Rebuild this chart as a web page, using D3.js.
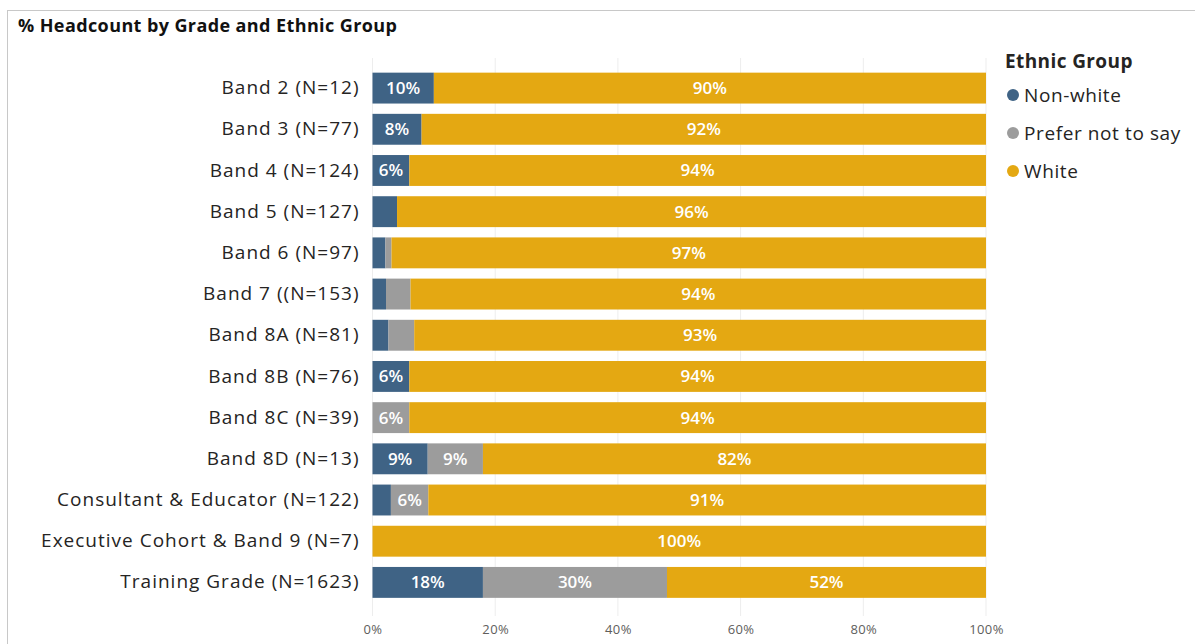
<!DOCTYPE html>
<html><head><meta charset="utf-8">
<script src="https://cdn.jsdelivr.net/npm/d3@7"></script>
<style>body{margin:0;background:#fff;}svg{display:block;}</style>
</head><body>
<script>
const categories = ["Band 2 (N=12)","Band 3 (N=77)","Band 4 (N=124)","Band 5 (N=127)","Band 6 (N=97)","Band 7 ((N=153)","Band 8A (N=81)","Band 8B (N=76)","Band 8C (N=39)","Band 8D (N=13)","Consultant & Educator (N=122)","Executive Cohort & Band 9 (N=7)","Training Grade (N=1623)"];
const seriesNames = ["Non-white","Prefer not to say","White"];
const nonWhite = [10, 8, 6, 4, 2.1, 2.2, 2.6, 6, 0, 9, 3, 0, 18];
const preferNot = [0, 0, 0, 0, 1.0, 4.0, 4.2, 0, 6, 9, 6.1, 0, 30];
const white = [90, 92, 94, 96, 96.9, 93.8, 93.2, 94, 94, 82, 90.9, 100, 52];
const tickValues = [0, 20, 40, 60, 80, 100];
const colors = ["#3F6385", "#9C9C9C", "#E4A812"];

const W = 1195, H = 644;
const svg = d3.select("body").append("svg").attr("width", W).attr("height", H);
const font = "'Open Sans', 'Noto Sans', sans-serif";

svg.append("rect").attr("x", 7.5).attr("y", 10.5).attr("width", W).attr("height", H)
  .attr("fill", "none").attr("stroke", "#C8C8C8").attr("stroke-width", 1);

svg.append("text").attr("x", 18).attr("y", 32).text("% Headcount by Grade and Ethnic Group")
  .attr("font-family", font).attr("font-weight", 700).attr("font-size", 18)
  .attr("letter-spacing", 0.4).attr("fill", "#111");

const x = d3.scaleLinear().domain([0, 100]).range([372.5, 986]);
const y = d3.scaleBand().domain(categories).range([67.5, 603]).paddingInner(0.25).paddingOuter(0.125);

// gridlines
svg.append("g").selectAll("line").data(tickValues).join("line")
  .attr("x1", d => x(d)).attr("x2", d => x(d)).attr("y1", 58).attr("y2", 616)
  .attr("stroke", "#EDEDED").attr("stroke-width", 1);

const rows = categories.map((c, i) => ({cat: c, vals: [nonWhite[i], preferNot[i], white[i]]}));
const stack = d3.stack().keys([0,1,2]).value((d, k) => d.vals[k]);
const stacked = stack(rows);

const g = svg.append("g");
stacked.forEach((layer, k) => {
  g.append("g").selectAll("rect").data(layer).join("rect")
    .attr("x", d => x(d[0])).attr("width", d => Math.max(0, x(d[1]) - x(d[0])))
    .attr("y", d => y(d.data.cat)).attr("height", y.bandwidth())
    .attr("fill", colors[k]);
  g.append("g").selectAll("text").data(layer.filter(d => (d[1]-d[0]) >= 5.5)).join("text")
    .attr("x", d => (x(d[0]) + x(d[1])) / 2).attr("y", d => y(d.data.cat) + y.bandwidth()/2 + 6)
    .attr("text-anchor", "middle").attr("font-family", font).attr("font-weight", 600)
    .attr("font-size", 17).attr("fill", "#fff")
    .text(d => Math.round(d[1]-d[0]) + "%");
});

// category axis
const yAxis = svg.append("g").attr("transform", `translate(${x(0)},0)`)
  .call(d3.axisLeft(y).tickSize(0).tickPadding(13));
yAxis.select(".domain").remove();
yAxis.selectAll("text").attr("font-family", font).attr("font-size", 19)
  .attr("letter-spacing", 1).attr("fill", "#252423");

// x axis
const xAxis = svg.append("g").attr("transform", `translate(0,617)`)
  .call(d3.axisBottom(x).tickValues(tickValues).tickSize(0).tickPadding(8).tickFormat(d => d + "%"));
xAxis.select(".domain").remove();
xAxis.selectAll("text").attr("font-family", font).attr("font-size", 13)
  .attr("letter-spacing", 0.4).attr("fill", "#605E5C");

// legend
const lg = svg.append("g");
lg.append("text").attr("x", 1005).attr("y", 68).text("Ethnic Group")
  .attr("font-family", font).attr("font-weight", 700).attr("font-size", 19)
  .attr("letter-spacing", 0.4).attr("fill", "#252423");
seriesNames.forEach((s, i) => {
  const cy = 95 + i * 38;
  lg.append("circle").attr("cx", 1013).attr("cy", cy).attr("r", 6).attr("fill", colors[i]);
  lg.append("text").attr("x", 1024).attr("y", cy + 6.5).text(s)
    .attr("font-family", font).attr("font-size", 19).attr("letter-spacing", 0.6).attr("fill", "#252423");
});
</script>
</body></html>
